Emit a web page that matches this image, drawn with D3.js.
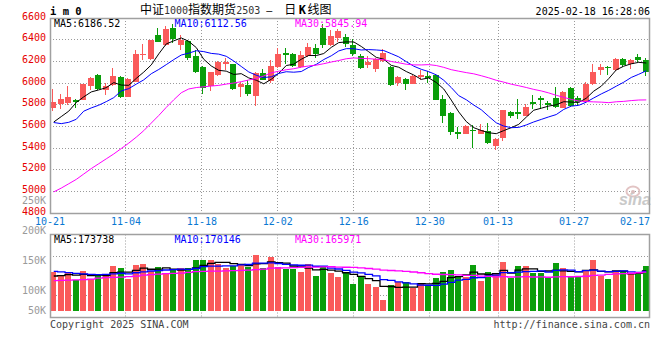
<!DOCTYPE html>
<html><head><meta charset="utf-8">
<script src="https://cdn.jsdelivr.net/npm/d3@7"></script>
<style>
html,body{margin:0;padding:0;background:#fff;}
svg{display:block;}
text{font-family:"DejaVu Sans Mono",monospace;font-size:10px;}
</style></head><body>
<svg id="chart" width="660" height="360"></svg>
<script>
// ---------------- data ----------------
const dates = [
"10-21","10-22","10-23","10-24","10-25","10-28","10-29","10-30","10-31","11-01",
"11-04","11-05","11-06","11-07","11-08","11-11","11-12","11-13","11-14","11-15",
"11-18","11-19","11-20","11-21","11-22","11-25","11-26","11-27","11-28","11-29",
"12-02","12-03","12-04","12-05","12-06","12-09","12-10","12-11","12-12","12-13",
"12-16","12-17","12-18","12-19","12-20","12-23","12-24","12-25","12-26","12-27",
"12-30","12-31","01-02","01-03","01-06","01-07","01-08","01-09","01-10","01-13",
"01-14","01-15","01-16","01-17","01-20","01-21","01-22","01-23","01-24","01-27",
"02-05","02-06","02-07","02-10","02-11","02-12","02-13","02-14","02-17","02-18"];
const open = [
5772,5803,5812,5840,5846,5975,6074,5932,5982,6055,
5874,6012,6256,6222,6443,6351,6511,6351,6388,6252,
6148,5969,6074,6178,6172,5963,5981,5883,6092,6018,
6148,6277,6271,6148,6246,6326,6505,6351,6412,6425,
6351,6252,6166,6129,6203,6148,6000,6037,5994,6055,
6062,6074,5852,5723,5551,5532,5569,5532,5557,5421,
5489,5735,5729,5698,5821,5858,5815,5865,5772,5957,
5858,5828,5988,6117,6145,6117,6222,6172,6240,6215];
const high = [
5945,5895,5975,5852,5994,6055,6086,5997,6142,6068,
6049,6308,6357,6400,6511,6529,6548,6443,6394,6308,
6154,6105,6203,6234,6178,6012,6031,6105,6129,6209,
6320,6320,6277,6295,6369,6357,6541,6486,6498,6449,
6410,6265,6246,6234,6314,6154,6068,6049,6074,6117,
6111,6080,5889,5729,5594,5612,5612,5618,5631,5489,
5754,5741,5852,5809,5889,5877,5834,5963,5926,5963,
5877,6006,6172,6179,6160,6234,6228,6222,6265,6234];
const low = [
5745,5760,5797,5772,5840,5938,5938,5889,5975,5865,
5868,6006,6215,6215,6375,6345,6369,6302,6215,6092,
5895,5926,6062,6123,5938,5871,5883,5791,6025,6000,
6142,6172,6148,6142,6240,6234,6326,6345,6382,6332,
6252,6129,6135,6098,6197,5975,5969,5938,5988,6025,
6000,5840,5631,5520,5483,5526,5397,5526,5440,5378,
5465,5674,5668,5692,5760,5760,5748,5772,5766,5778,
5791,5822,5982,6074,6074,6111,6148,6129,6197,6062];
const close = [
5822,5852,5871,5828,5988,6049,5945,5975,6062,5874,
6037,6265,6265,6394,6382,6498,6406,6400,6234,6098,
5957,6098,6197,6197,5945,5994,5901,6092,6031,6154,
6271,6258,6154,6258,6332,6265,6351,6437,6480,6363,
6265,6142,6191,6222,6277,5982,6055,5994,6062,6074,
6049,5846,5692,5551,5526,5606,5563,5563,5446,5483,
5748,5698,5717,5778,5803,5840,5797,5778,5920,5785,
5821,5994,6105,6148,6135,6222,6166,6215,6215,6105];
const volume = [
166800,149400,163900,134900,174000,139200,161000,156600,195800,187100,
139200,200100,204500,171100,191400,163900,175500,184200,184200,221900,
219000,221900,203000,184200,195800,204500,191400,243600,187100,234900,
188500,181300,181300,169700,204500,152300,191400,163900,147900,169700,
117500,146500,117500,101500,47900,113100,126200,126200,98600,121800,
108800,140700,169700,178400,145000,145000,200100,130500,169700,162400,
213200,140700,195800,195800,162400,162400,147900,208800,184200,152300,
152300,178400,221900,152300,139200,174000,174000,162400,162400,195800];
// moving-average values before enough days are on the chart
const ma5Lead  = [5640,5690,5740,5820];
const ma10Lead = [5635,5625,5637,5665,5740,5770,5795,5828,5865];
const ma30Lead = [4995,5030,5070,5110,5160,5210,5255,5300,5345,5395,5445,5500,5560,5630,5700,
                  5775,5845,5910,5945,5958,5965,5972,5978,5990,6000,6012,6028,6040,6065];
const volMa5Lead  = [151000,153000,157000,155000];
const volMa10Lead = [171000,169000,166000,162000,160000,158000,157000,158000,160000];
const volMa30Lead = [130500,132000,133400,134000,134900,137800,142100,143600,145000,146500,148000,
                     150800,155200,156600,159500,161000,162400,163900,166800,169700,171100,171800,
                     172600,173300,174000,175500,176900,179100,181300];
const priceTicks = [4800,5000,5200,5400,5600,5800,6000,6200,6400,6600];
const volumeTicks = [250000,200000,150000,100000,50000];
const dateTicks = ["10-21","11-04","11-18","12-02","12-16","12-30","01-13","01-27","02-17"];
const maNames = ["MA5","MA10","MA30"];
const legendPrice = [6186.52,6112.56,5845.94];
const legendVolume = [173738,170146,165971];
const titleMain = "中证1000指数期货2503";
const titleSub = "日K线图";
const symbolText = "i m 0";
const timeText = "2025-02-18 16:28:06";
const copyText = "Copyright 2025 SINA.COM";
const urlText = "http://finance.sina.com.cn";

// ---------------- layout ----------------
const L = 50, R = 650;
const pTop = 18, pBot = 213;
const vTop = 234.5, vBot = 317.5, vBase = 310.7;
const RED = "#fa5a5a", GREEN = "#0a9e0a";
const MA_COLORS = ["#000000","#0000ff","#ff00ff"];
const GRID = "#9a9a9a";

const svg = d3.select("#chart");
const x = d3.scaleBand().domain(dates).range([L, R]).paddingInner(0.25).paddingOuter(0.125);
const cx = d => x(d) + x.bandwidth() / 2;
const gx = d3.scaleLinear().domain([0, dates.length - 1]).range([L, R]);
const y = d3.scaleLinear().domain([4800, 6600]).range([pBot, pTop]);
const yv = d3.scaleLinear().domain([0, 300000]).range([vBase, vBase - 68.94]);
const yvLab = d3.scaleLinear().domain([0, 250000]).range([350, 200]);

function movingAvg(vals, n, lead) {
  return vals.map((v, i) => i < n - 1 ? lead[i] : d3.mean(vals.slice(i - n + 1, i + 1)));
}
const priceMA = [movingAvg(close, 5, ma5Lead), movingAvg(close, 10, ma10Lead), movingAvg(close, 30, ma30Lead)];
const volMA = [movingAvg(volume, 5, volMa5Lead), movingAvg(volume, 10, volMa10Lead), movingAvg(volume, 30, volMa30Lead)];

// ---------------- grid ----------------
const grid = svg.append("g").attr("stroke", GRID).attr("stroke-dasharray", "1,2").attr("stroke-width", 1);
priceTicks.filter(t => t > 4800 && t < 6600).forEach(t => {
  const yy = Math.floor(y(t)) + 0.5;
  grid.append("line").attr("x1", L).attr("x2", R).attr("y1", yy).attr("y2", yy);
});
[0.26, 0.735].forEach(f => {
  const yy = Math.floor(vTop + f * (vBot - vTop)) + 0.5;
  grid.append("line").attr("x1", L).attr("x2", R).attr("y1", yy).attr("y2", yy);
});
dateTicks.forEach((d, k) => {
  if (k === 0 || k === dateTicks.length - 1) return;
  const xx = Math.floor(gx(dates.indexOf(d))) + 0.5;
  grid.append("line").attr("x1", xx).attr("x2", xx).attr("y1", pTop).attr("y2", pBot);
  grid.append("line").attr("x1", xx).attr("x2", xx).attr("y1", vTop).attr("y2", vBot);
});

// ---------------- sina watermark ----------------
const logo = svg.append("g");
logo.append("ellipse").attr("cx", 633).attr("cy", 191.5).attr("rx", 6.5).attr("ry", 5)
  .attr("fill", "none").attr("stroke", "#e2c4c4").attr("stroke-width", 2);
logo.append("circle").attr("cx", 633).attr("cy", 192).attr("r", 2).attr("fill", "#d9bcbc");
logo.append("text").attr("x", 619).attr("y", 205).text("sina")
  .style("font-family", "Liberation Sans, Arial").style("font-size", "16px")
  .style("font-style", "italic").style("font-weight", "bold").attr("fill", "#c9c9c9");

// ---------------- candles ----------------
const cg = svg.append("g").attr("shape-rendering", "crispEdges");
const idx = d3.range(dates.length);
const colorOf = i => close[i] >= open[i] ? RED : GREEN;
cg.selectAll("line.wick").data(idx).join("line").attr("class", "wick")
  .attr("x1", i => Math.floor(cx(dates[i])) - 0.5).attr("x2", i => Math.floor(cx(dates[i])) - 0.5)
  .attr("y1", i => y(high[i])).attr("y2", i => y(low[i]))
  .attr("stroke", colorOf).attr("stroke-width", 1);
cg.selectAll("rect.body").data(idx).join("rect").attr("class", "body")
  .attr("x", i => Math.floor(cx(dates[i])) - 3)
  .attr("y", i => y(Math.max(open[i], close[i])))
  .attr("width", 6)
  .attr("height", i => Math.max(1, y(Math.min(open[i], close[i])) - y(Math.max(open[i], close[i]))))
  .attr("fill", colorOf);

// volume bars
cg.selectAll("rect.vol").data(idx).join("rect").attr("class", "vol")
  .attr("x", i => Math.floor(cx(dates[i])) - 3)
  .attr("y", i => yv(volume[i]))
  .attr("width", 6)
  .attr("height", i => vBase - yv(volume[i]))
  .attr("fill", colorOf);

// ---------------- MA lines ----------------
priceMA.forEach((arr, k) => {
  const line = d3.line().x((d, i) => cx(dates[i])).y(d => y(d));
  svg.append("path").attr("d", line(arr)).attr("fill", "none")
    .attr("stroke", MA_COLORS[k]).attr("stroke-width", 1);
});
volMA.forEach((arr, k) => {
  const line = d3.line().x((d, i) => cx(dates[i])).y(d => yv(d)).curve(d3.curveStep);
  svg.append("path").attr("d", line(arr)).attr("fill", "none")
    .attr("stroke", MA_COLORS[k]).attr("stroke-width", 1.3);
});

// ---------------- borders ----------------
svg.append("rect").attr("x", L + 0.5).attr("y", pTop + 0.5).attr("width", R - L - 1).attr("height", pBot - pTop)
  .attr("fill", "none").attr("stroke", "#a0a0a0").attr("stroke-width", 1.5);
svg.append("rect").attr("x", L + 0.5).attr("y", vTop).attr("width", R - L - 1).attr("height", vBot - vTop)
  .attr("fill", "none").attr("stroke", "#a0a0a0").attr("stroke-width", 1.5);

// ---------------- axis labels ----------------
priceTicks.forEach(t => {
  svg.append("text").attr("x", 46).attr("y", y(t) + 1.7).attr("text-anchor", "end")
    .attr("fill", "#e60000").text(t);
});
volumeTicks.forEach(v => {
  const yy = Math.min(yvLab(v), vBase);
  svg.append("text").attr("x", 46).attr("y", yy + 3.6).attr("text-anchor", "end")
    .attr("fill", "#9a9a9a").text((v / 1000) + "K");
});
dateTicks.forEach(d => {
  const t = svg.append("text").attr("y", 224.5).attr("text-anchor", "middle").attr("fill", "#0a78d2").text(d);
  let xx = gx(dates.indexOf(d));
  const w = t.node().getComputedTextLength();
  if (xx + w / 2 > R) xx = R - w / 2;
  t.attr("x", xx);
});

// ---------------- legends ----------------
maNames.forEach((n, k) => {
  svg.append("text").attr("x", 54 + k * 120.5).attr("y", 26.5).attr("fill", MA_COLORS[k])
    .text(n + ":" + legendPrice[k].toFixed(2));
  svg.append("text").attr("x", 54 + k * 120.5).attr("y", 243).attr("fill", MA_COLORS[k])
    .text(n + ":" + legendVolume[k]);
});

// ---------------- header ----------------
svg.append("text").attr("x", 50).attr("y", 15).style("font-weight", "bold").style("font-size", "10.5px")
  .attr("fill", "#000").text(symbolText);
svg.append("text").attr("x", 650).attr("y", 15).attr("text-anchor", "end").attr("fill", "#000").text(timeText);

const title = svg.append("text").attr("x", 140).attr("y", 14).attr("fill", "#000");
function addParts(str, firstDx) {
  str.split(/([0-9A-Za-z]+)/).filter(s => s.length).forEach((s, j) => {
    const ts = title.append("tspan").text(s);
    let dx = 0;
    if (/^[0-9]+$/.test(s)) {
      ts.style("font-family", "DejaVu Sans Mono").style("font-size", "10px").attr("fill", "#333");
    } else if (/^[A-Za-z]+$/.test(s)) {
      dx = 2.5;
      ts.style("font-family", "DejaVu Sans Mono").style("font-size", "12px").style("font-weight", "bold");
    } else {
      ts.style("font-family", "Noto Sans CJK SC").style("font-size", "12px");
      if (j > 0 && /[A-Za-z]$/.test(str.split(/([0-9A-Za-z]+)/).filter(s => s.length)[j - 1])) dx = 1.5;
    }
    if (j === 0 && firstDx) dx = firstDx;
    if (dx) ts.attr("dx", dx);
  });
}
addParts(titleMain, 0);
title.append("tspan").attr("dx", 6).style("font-family", "DejaVu Sans Mono").style("font-size", "10px").text("—");
addParts(titleSub, 12);

// ---------------- footer ----------------
svg.append("text").attr("x", 50).attr("y", 327.5).attr("fill", "#444").text(copyText);
svg.append("text").attr("x", 650).attr("y", 327.5).attr("text-anchor", "end").attr("fill", "#444").text(urlText);
</script>
</body></html>
